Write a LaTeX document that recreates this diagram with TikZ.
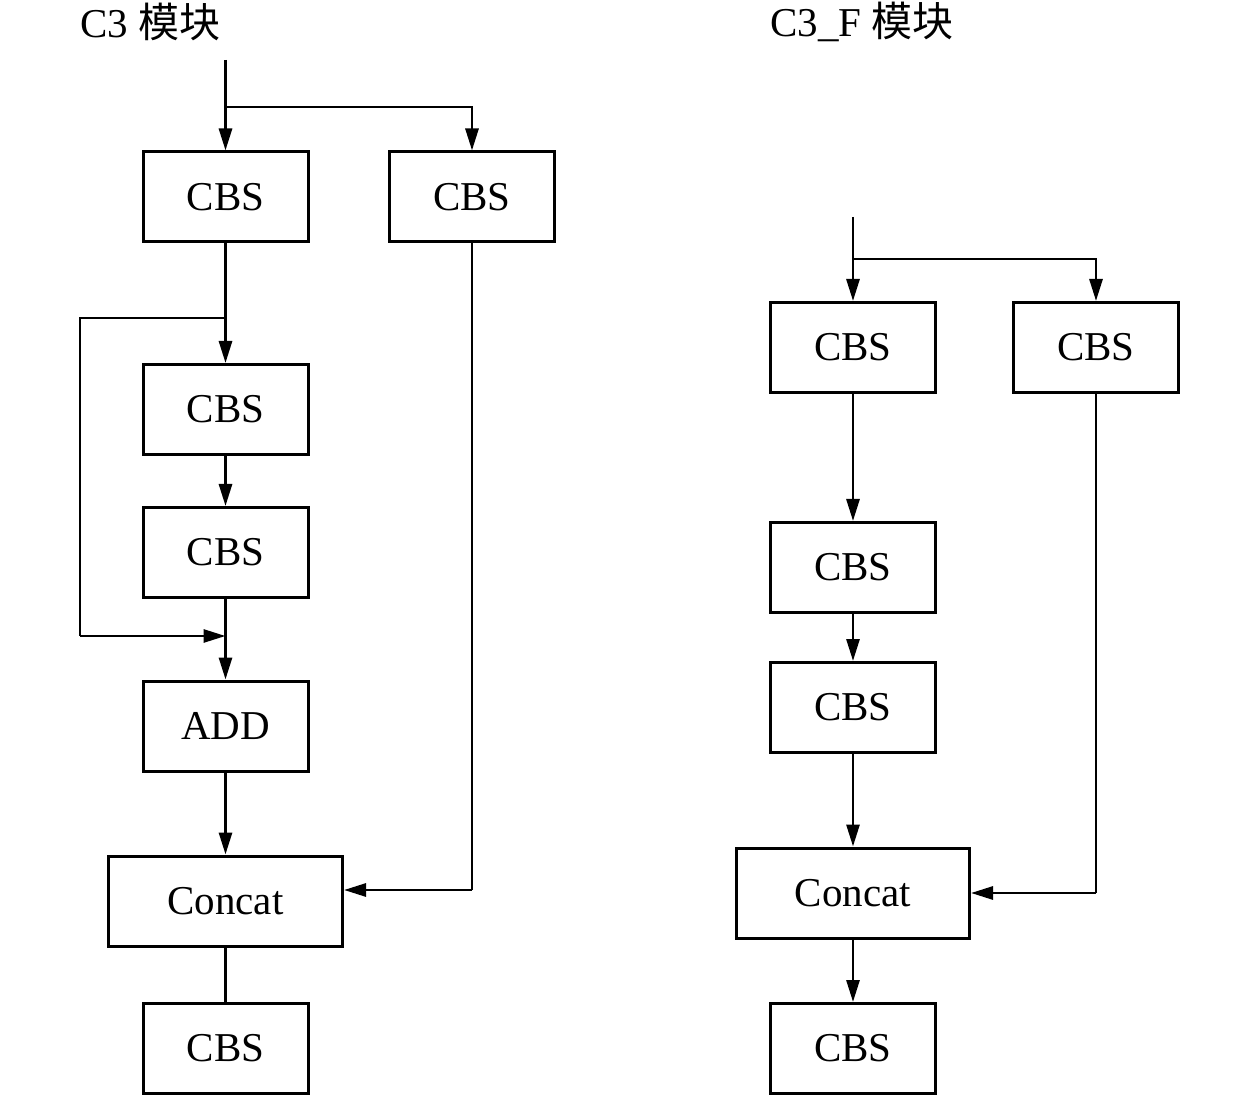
\documentclass[tikz,border=0pt]{standalone}
\usepackage{fontspec}
\setmainfont{Liberation Serif}
\newfontfamily\cjk{Noto Sans CJK SC}
\usetikzlibrary{arrows.meta}
\begin{document}
\begin{tikzpicture}[x=0.5pt,y=-0.5pt,
  box/.style={draw,line width=1.5pt,minimum width=82.5pt,minimum height=45pt,inner sep=0pt,font=\fontsize{20.5}{24}\selectfont},
  wide/.style={box,minimum width=117pt},
  ln/.style={line width=1.4pt},
  ar/.style={ln,-{Triangle[length=11pt,width=6.5pt]}},
  ttl/.style={anchor=west,inner sep=0pt,font=\fontsize{20.5}{24}\selectfont}]
\useasboundingbox (0,0) rectangle (1259,1096);
% titles
\node[ttl] (t1) at (80,22) {C3 {\cjk 模块}};
\node[ttl] (t2) at (770,22) {C3\_F {\cjk 模块}};
% left column
\node[box] (a1) at (225.5,197) {CBS};
\node[box] (a2) at (472,197) {CBS};
\node[box] (a3) at (225.5,409.5) {CBS};
\node[box] (a4) at (225.5,552.5) {CBS};
\node[box] (add) at (225.5,726) {ADD};
\node[wide] (cc1) at (225.5,901) {Concat};
\node[box] (a5) at (225.5,1048.5) {CBS};
\coordinate (in1) at (225.5,60);
\coordinate (br1) at (225.5,107);
\coordinate (br1r) at (472,107);
\coordinate (sk1) at (225.5,318);
\coordinate (sk2) at (80,318);
\coordinate (sk3) at (80,636);
\coordinate (sk4) at (225.5,636);
\coordinate (rr1) at (472,890);
\draw[ln] (in1) -- (br1);
\draw[ar] (br1) -- (a1.north);
\draw[ar] (br1) -- (br1r) -- (a2.north);
\draw[ar] (a1.south) -- (a3.north);
\draw[ln] (sk1) -- (sk2) -- (sk3);
\draw[ar] (sk3) -- (sk4);
\draw[ar] (a3.south) -- (a4.north);
\draw[ar] (a4.south) -- (add.north);
\draw[ar] (add.south) -- (cc1.north);
\draw[ln] (a2.south) -- (rr1);
\draw[ar] (rr1) -- (cc1.east |- rr1);
\draw[ln] (cc1.south) -- (a5.north);
% right column
\node[box] (b1) at (853,347.5) {CBS};
\node[box] (b2) at (1096,347.5) {CBS};
\node[box] (b3) at (853,567.5) {CBS};
\node[box] (b4) at (853,707.5) {CBS};
\node[wide,minimum width=116.5pt] (cc2) at (853,893) {Concat};
\node[box] (b5) at (853,1048.5) {CBS};
\coordinate (in2) at (853,217);
\coordinate (br2) at (853,259);
\coordinate (br2r) at (1096,259);
\coordinate (rr2) at (1096,893);
\draw[ln] (in2) -- (br2);
\draw[ar] (br2) -- (b1.north);
\draw[ar] (br2) -- (br2r) -- (b2.north);
\draw[ar] (b1.south) -- (b3.north);
\draw[ar] (b3.south) -- (b4.north);
\draw[ar] (b4.south) -- (cc2.north);
\draw[ln] (b2.south) -- (rr2);
\draw[ar] (rr2) -- (cc2.east);
\draw[ar] (cc2.south) -- (b5.north);
\end{tikzpicture}
\end{document}
